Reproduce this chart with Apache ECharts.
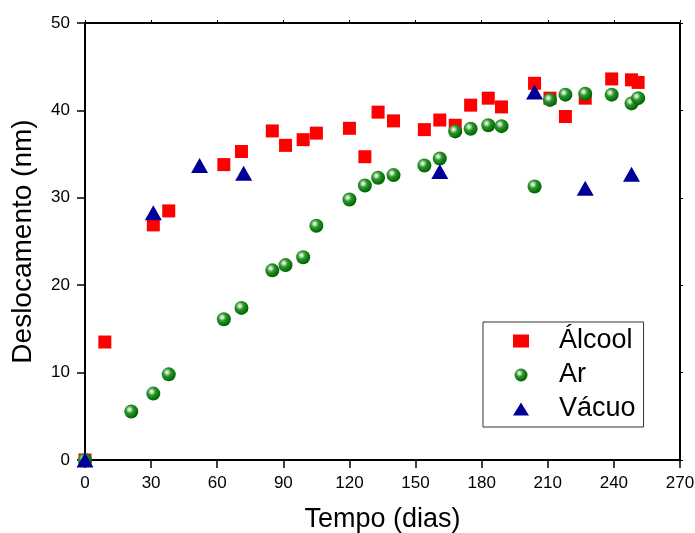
<!DOCTYPE html>
<html>
<head>
<meta charset="utf-8">
<script src="https://cdn.jsdelivr.net/npm/echarts@6/dist/echarts.min.js"></script>
<style>html,body{margin:0;padding:0;background:#fff}#c{width:695px;height:533px}</style>
</head>
<body>
<div id="c"></div>
<script>
var seriesNames = ['Álcool', 'Ar', 'Vácuo'];
var alcoolDays = [0, 9, 31, 38, 63, 71, 85, 91, 99, 105, 120, 127, 133, 140, 154, 161, 168, 175, 183, 189, 204, 211, 218, 227, 239, 248, 251];
var alcoolVals = [0, 13.5, 26.9, 28.5, 33.8, 35.3, 37.65, 36.0, 36.65, 37.4, 37.95, 34.7, 39.8, 38.8, 37.8, 38.9, 38.3, 40.6, 41.4, 40.4, 43.1, 41.4, 39.3, 41.4, 43.6, 43.5, 43.2];
var arDays = [0, 21, 31, 38, 63, 71, 85, 91, 99, 105, 120, 127, 133, 140, 154, 161, 168, 175, 183, 189, 204, 211, 218, 227, 239, 248, 251];
var arVals = [0, 5.55, 7.6, 9.8, 16.1, 17.4, 21.7, 22.3, 23.2, 26.8, 29.8, 31.4, 32.3, 32.6, 33.7, 34.5, 37.6, 37.9, 38.3, 38.2, 31.3, 41.2, 41.8, 41.9, 41.8, 40.8, 41.4];
var vacuoDays = [0, 31, 52, 72, 161, 204, 227, 248];
var vacuoVals = [0, 28.3, 33.7, 32.8, 33.0, 42.1, 31.1, 32.7];
var xTicks = [0, 30, 60, 90, 120, 150, 180, 210, 240, 270];
var yTicks = [0, 10, 20, 30, 40, 50];

function pairs(xs, ys) { return xs.map(function (x, i) { return [x, ys[i]]; }); }

var font = '"Liberation Sans", Arial, sans-serif';
var sphere = {
  type: 'radial', x: 0.38, y: 0.36, r: 0.62,
  colorStops: [
    { offset: 0, color: '#ffffff' },
    { offset: 0.18, color: '#b9dcb9' },
    { offset: 0.45, color: '#2a962a' },
    { offset: 1, color: '#006600' }
  ]
};

var chart = echarts.init(document.getElementById('c'), null, { renderer: 'canvas' });
var axisLine = { show: true, onZero: false, lineStyle: { color: '#000', width: 2 } };
chart.setOption({
  backgroundColor: '#fff',
  animation: false,
  grid: { left: 85, right: 15, top: 23, bottom: 73, containLabel: false, outerBoundsMode: 'none' },
  legend: {
    data: seriesNames,
    orient: 'vertical',
    left: 483, top: 322,
    width: 161,
    padding: [4, 8, 3, 30],
    itemGap: 4,
    itemWidth: 16, itemHeight: 13,
    borderColor: '#333', borderWidth: 1,
    backgroundColor: '#fff',
    textStyle: { fontFamily: font, fontSize: 27, color: '#000', lineHeight: 30, padding: [0, 0, 0, 25] }
  },
  xAxis: [{
    type: 'value', min: xTicks[0], max: xTicks[xTicks.length - 1], interval: 30,
    name: 'Tempo (dias)', nameLocation: 'middle', nameGap: 46,
    nameTextStyle: { fontFamily: font, fontSize: 27, color: '#000' },
    axisLine: axisLine,
    axisTick: { show: true, length: 8, lineStyle: { color: '#000', width: 1.5 } },
    axisLabel: { fontFamily: font, fontSize: 17, color: '#000', margin: 15 },
    splitLine: { show: false }
  }, {
    type: 'value', position: 'top', min: xTicks[0], max: xTicks[xTicks.length - 1], interval: 30,
    axisLine: axisLine,
    axisTick: { show: true, length: 3, lineStyle: { color: '#000', width: 1 } },
    axisLabel: { show: false }, splitLine: { show: false }
  }],
  yAxis: [{
    type: 'value', min: yTicks[0], max: yTicks[yTicks.length - 1], interval: 10,
    name: 'Deslocamento (nm)', nameLocation: 'middle', nameGap: 48,
    nameTextStyle: { fontFamily: font, fontSize: 28, color: '#000' },
    axisLine: axisLine,
    axisTick: { show: true, length: 8, lineStyle: { color: '#000', width: 1.5 } },
    axisLabel: { fontFamily: font, fontSize: 17, color: '#000', margin: 15 },
    splitLine: { show: false }
  }, {
    type: 'value', position: 'right', min: yTicks[0], max: yTicks[yTicks.length - 1], interval: 10,
    axisLine: axisLine,
    axisTick: { show: true, length: 3, lineStyle: { color: '#000', width: 1 } },
    axisLabel: { show: false }, splitLine: { show: false }
  }],
  series: [{
    name: seriesNames[0], type: 'scatter', symbol: 'rect', symbolSize: 13,
    itemStyle: { color: '#ff0000', opacity: 1 },
    data: pairs(alcoolDays, alcoolVals), z: 2
  }, {
    name: seriesNames[1], type: 'scatter', symbol: 'circle', symbolSize: 14,
    itemStyle: { color: sphere, opacity: 1 },
    data: pairs(arDays, arVals), z: 3
  }, {
    name: seriesNames[2], type: 'scatter', symbol: 'triangle', symbolSize: [17, 15],
    itemStyle: { color: '#000099', opacity: 1 },
    data: pairs(vacuoDays, vacuoVals), z: 4
  }]
});
</script>
</body>
</html>
